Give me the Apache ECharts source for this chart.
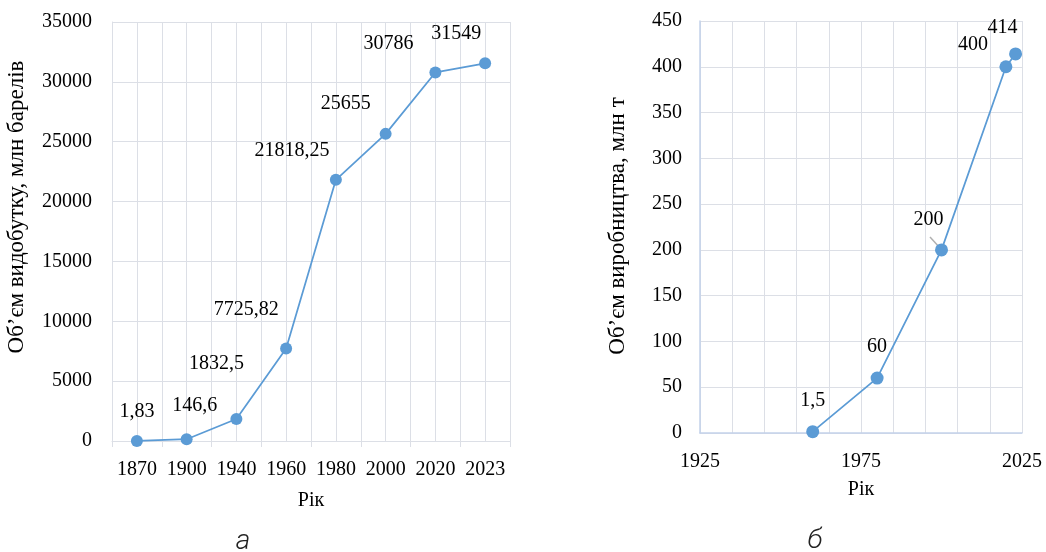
<!DOCTYPE html>
<html>
<head>
<meta charset="utf-8">
<script src="https://cdn.jsdelivr.net/npm/echarts@6/dist/echarts.min.js"></script>
<style>
  html, body { margin: 0; padding: 0; background: #fff; }
  #main { width: 1046px; height: 552px; }
</style>
</head>
<body>
<div id="main"></div>
<script>
// ліва діаграма: видобуток нафти
var oilYears = ['1870', '1900', '1940', '1960', '1980', '2000', '2020', '2023'];
var oilValues = [1.83, 146.6, 1832.5, 7725.82, 21818.25, 25655, 30786, 31549];
var oilTicks = [0, 5000, 10000, 15000, 20000, 25000, 30000, 35000];

// права діаграма: виробництво
var prodYears = [1960, 1980, 2000, 2020, 2023];
var prodValues = [1.5, 60, 200, 400, 414];
var prodYearTicks = [1925, 1975, 2025];
var prodTicks = [0, 50, 100, 150, 200, 250, 300, 350, 400, 450];

var FONT = "'Liberation Serif', 'Times New Roman', 'DejaVu Serif', serif";
var lineColor = '#5b9bd5';
var gridColor = '#dcdfe6';

// зсуви підписів відносно точок
var oilLabelShift = [[0,-29],[8,-33],[-20,-55],[-40,-39],[-44,-29],[-40,-30],[-47,-29],[-29,-30]];
var prodLabelShift = [[0,-31],[0,-31],[-13,-30],[-33,-22],[-13,-26]];

function comma(v){ return String(v).replace('.', ','); }
function plain(v){ return String(v); }

var oilData = oilValues.map(function(v, i){
  return { value: v, label: { offset: oilLabelShift[i] } };
});
var prodData = prodYears.map(function(y, i){
  return { value: [y, prodValues[i]], label: { offset: prodLabelShift[i] } };
});

var myChart = echarts.init(document.getElementById('main'));
var option = {
  animation: false,
  backgroundColor: '#fff',
  grid: [
    { left: 112, right: 536, top: 22, bottom: 111 },
    { left: 700, right: 24, top: 21, bottom: 119 }
  ],
  xAxis: [
    {
      gridIndex: 0, type: 'category', data: oilYears, boundaryGap: true,
      name: 'Рік', nameLocation: 'middle', nameGap: 50,
      nameTextStyle: { fontFamily: FONT, fontSize: 20, color: '#000' },
      axisLine: { show: true, lineStyle: { color: gridColor, width: 1 } },
      axisTick: { show: true, length: 6, lineStyle: { color: gridColor } },
      axisLabel: { fontFamily: FONT, fontSize: 20, color: '#000', margin: 19, interval: 0 },
      splitLine: { show: false }
    },
    {
      // допоміжна вісь лише для сітки (лінії через кожні півкатегорії)
      gridIndex: 0, type: 'value', min: 0, max: 16, interval: 1,
      axisLine: { show: false }, axisTick: { show: false }, axisLabel: { show: false },
      splitLine: { show: true, lineStyle: { color: gridColor, width: 1 } }
    },
    {
      gridIndex: 1, type: 'value', min: 1925, max: 2025, interval: 50,
      name: 'Рік', nameLocation: 'middle', nameGap: 47,
      nameTextStyle: { fontFamily: FONT, fontSize: 20, color: '#000' },
      axisLine: { show: true, lineStyle: { color: '#c3d2ea', width: 1.5 } },
      axisTick: { show: false },
      axisLabel: { fontFamily: FONT, fontSize: 20, color: '#000', margin: 19, formatter: plain },
      splitLine: { show: true, lineStyle: { color: gridColor } },
      minorTick: { show: false, splitNumber: 5 },
      minorSplitLine: { show: true, lineStyle: { color: gridColor } }
    }
  ],
  yAxis: [
    {
      gridIndex: 0, type: 'value', min: oilTicks[0], max: oilTicks[oilTicks.length - 1], interval: 5000,
      axisLine: { show: true, lineStyle: { color: gridColor } },
      axisTick: { show: false },
      axisLabel: { fontFamily: FONT, fontSize: 20, color: '#000', margin: 20, formatter: plain },
      splitLine: { show: true, lineStyle: { color: gridColor } }
    },
    {
      gridIndex: 1, type: 'value', min: prodTicks[0], max: prodTicks[prodTicks.length - 1], interval: 50,
      axisLine: { show: true, lineStyle: { color: '#c3d2ea', width: 1.5 } },
      axisTick: { show: false },
      axisLabel: { fontFamily: FONT, fontSize: 20, color: '#000', margin: 18, formatter: plain },
      splitLine: { show: true, lineStyle: { color: gridColor } }
    }
  ],
  series: [
    {
      type: 'line', xAxisIndex: 0, yAxisIndex: 0, data: oilData,
      symbol: 'circle', symbolSize: 12,
      lineStyle: { color: lineColor, width: 1.75 },
      itemStyle: { color: lineColor },
      label: { show: true, position: 'inside', fontFamily: FONT, fontSize: 20, color: '#000',
        formatter: function(p){ return comma(p.value); } }
    },
    {
      type: 'line', xAxisIndex: 2, yAxisIndex: 1, data: prodData,
      symbol: 'circle', symbolSize: 13,
      lineStyle: { color: lineColor, width: 1.75 },
      itemStyle: { color: lineColor },
      label: { show: true, position: 'inside', fontFamily: FONT, fontSize: 20, color: '#000',
        formatter: function(p){ return comma(p.value[1]); } }
    }
  ],
  graphic: [
    { type: 'text', x: 17, y: 207, rotation: Math.PI / 2,
      style: { text: 'Об’єм видобутку, млн барелів', fontFamily: FONT, fontSize: 23, fill: '#000',
        align: 'center', verticalAlign: 'middle' } },
    { type: 'text', x: 618, y: 226, rotation: Math.PI / 2,
      style: { text: 'Об’єм виробництва, млн т', fontFamily: FONT, fontSize: 23, fill: '#000',
        align: 'center', verticalAlign: 'middle' } },
    // лінія-виноска до підпису «200»
    { type: 'line', shape: { x1: 930, y1: 237, x2: 940, y2: 248 },
      style: { stroke: '#b0b0b0', lineWidth: 1.5 } },
    { type: 'text', x: 243, y: 542,
      style: { text: 'а', fontFamily: 'Roboto', fontStyle: 'italic', fontWeight: 300, fontSize: 28, fill: '#222',
        align: 'center', verticalAlign: 'middle' } },
    { type: 'text', x: 815, y: 541,
      style: { text: 'б', fontFamily: 'Roboto', fontStyle: 'italic', fontWeight: 300, fontSize: 28, fill: '#222',
        align: 'center', verticalAlign: 'middle' } }
  ]
};
myChart.setOption(option);
</script>
</body>
</html>
